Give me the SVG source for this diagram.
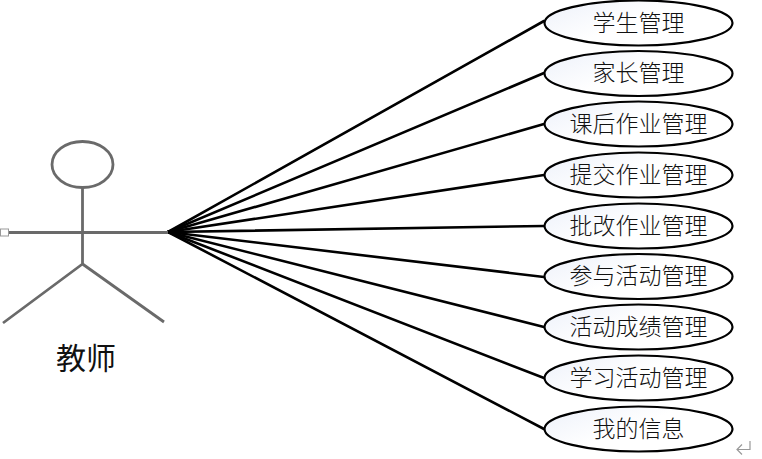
<svg xmlns="http://www.w3.org/2000/svg" width="762" height="459" viewBox="0 0 762 459">
<style>
.uc{fill:url(#g);stroke:#000;stroke-width:2.2}
.t{font-family:"Noto Sans CJK SC","Noto Sans CJK JP",sans-serif;font-size:23px;text-anchor:middle;fill:#111;font-weight:300}
.c line{stroke:#000;stroke-width:2.6;stroke-linecap:round}
.a{fill:none;stroke:#6a6a6a;stroke-width:2.8}
</style>
<defs><linearGradient id="g" x1="0" y1="0" x2="1" y2="0.6"><stop offset="0" stop-color="#edf1fa"/><stop offset="0.55" stop-color="#fff"/></linearGradient></defs>
<g id="connectors" class="c">
<line x1="168" y1="232" x2="544" y2="21"/>
<line x1="168" y1="232" x2="544" y2="73"/>
<line x1="168" y1="232" x2="544" y2="124"/>
<line x1="168" y1="232" x2="544" y2="175"/>
<line x1="168" y1="232" x2="544" y2="226"/>
<line x1="168" y1="232" x2="544" y2="277"/>
<line x1="168" y1="232" x2="544" y2="327"/>
<line x1="168" y1="232" x2="544" y2="378"/>
<line x1="168" y1="232" x2="544" y2="429"/>
</g>
<g id="actor">
<ellipse class="a" cx="82.500" cy="164.500" rx="30.500" ry="23"/>
<path class="a" d="M82.500 188V264M6 232.500H168M82.500 264L3 323M82.500 264L164 322"/>
<rect x="0.500" y="229" width="8" height="7" fill="#fff" stroke="#999"/>
<text x="86" y="369" style="font-family:'Noto Sans CJK SC','Noto Sans CJK JP',sans-serif;font-size:30px;text-anchor:middle;fill:#111">教师</text>
</g>
<g id="n1"><ellipse class="uc" cx="638.500" cy="23" rx="94" ry="22.500"/><text class="t" x="638.500" y="31">学生管理</text></g>
<g id="n2"><ellipse class="uc" cx="638.500" cy="73.500" rx="94" ry="22.500"/><text class="t" x="638.500" y="81">家长管理</text></g>
<g id="n3"><ellipse class="uc" cx="638.500" cy="124" rx="94" ry="22.500"/><text class="t" x="638.500" y="132">课后作业管理</text></g>
<g id="n4"><ellipse class="uc" cx="638.500" cy="175" rx="94" ry="22.500"/><text class="t" x="638.500" y="183">提交作业管理</text></g>
<g id="n5"><ellipse class="uc" cx="638.500" cy="226" rx="94" ry="22.500"/><text class="t" x="638.500" y="234">批改作业管理</text></g>
<g id="n6"><ellipse class="uc" cx="638.500" cy="276.500" rx="94" ry="22.500"/><text class="t" x="638.500" y="284">参与活动管理</text></g>
<g id="n7"><ellipse class="uc" cx="638.500" cy="327" rx="94" ry="22.500"/><text class="t" x="638.500" y="335">活动成绩管理</text></g>
<g id="n8"><ellipse class="uc" cx="638.500" cy="378" rx="94" ry="22.500"/><text class="t" x="638.500" y="386">学习活动管理</text></g>
<g id="n9"><ellipse class="uc" cx="638.500" cy="429" rx="94" ry="22.500"/><text class="t" x="638.500" y="437">我的信息</text></g>
<path d="M750 441V449.500H737M742 444.500L737 449.500L742 454.500" fill="none" stroke="#999" stroke-width="1.200"/>
</svg>
